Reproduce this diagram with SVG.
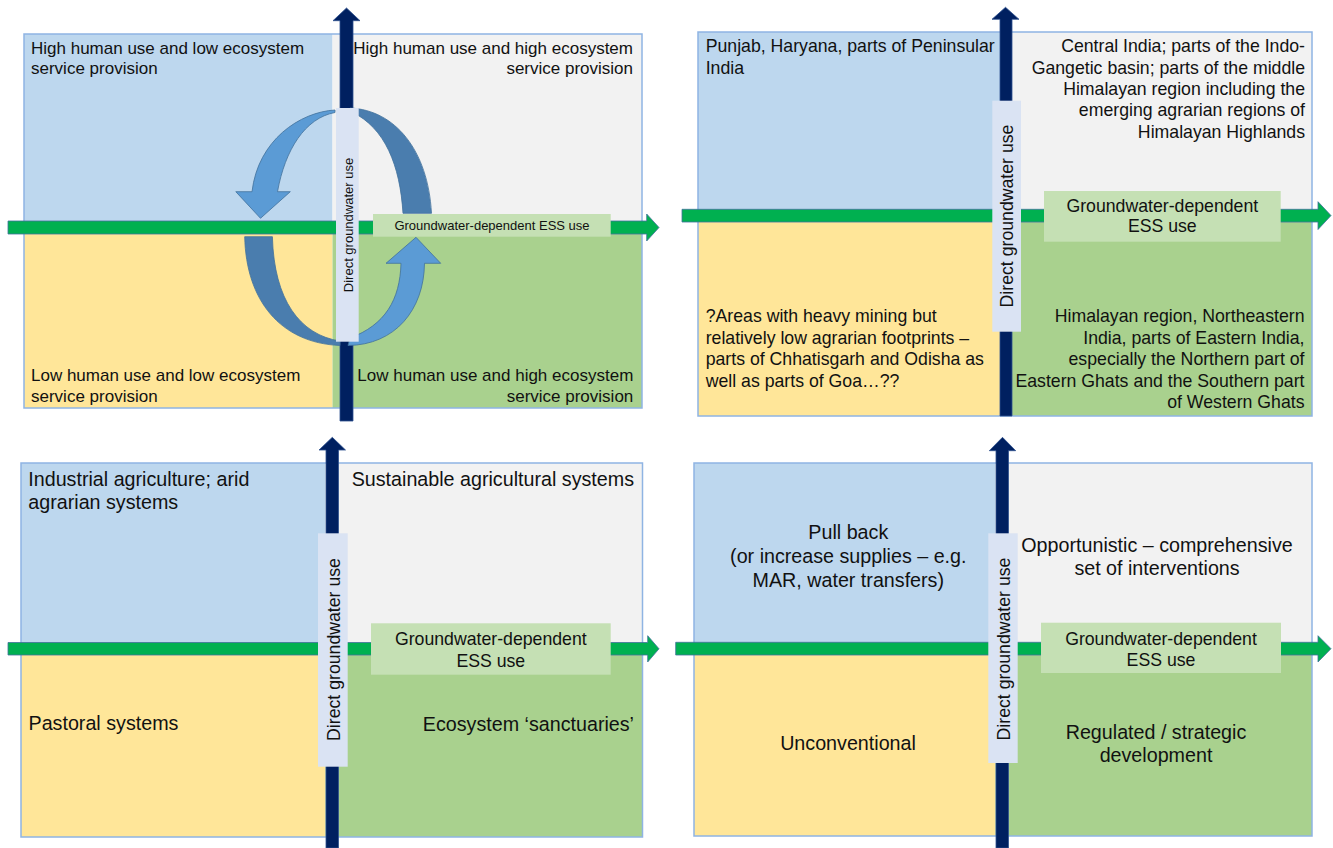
<svg xmlns="http://www.w3.org/2000/svg" width="1333" height="848" viewBox="0 0 1333 848">
<defs>
<style>
.qb{fill:#BDD7EE}.qg{fill:#F2F2F2}.qy{fill:#FFE699}.qe{fill:#A9D18E}
.frame{fill:none;stroke:#8FB4E3;stroke-width:1.5}
.gx{fill:#00B050;stroke:#41719C;stroke-width:0.8}
.nv{fill:#002060;stroke:#2F528F;stroke-width:0.8}
.lbl{fill:#DAE3F3}
.ess{fill:#C5E0B4}
.la{fill:#5B9BD5;stroke:#41719C;stroke-width:0.8}
.da{fill:#4A7DAE;stroke:#41719C;stroke-width:0.8}
text{font-family:"Liberation Sans",Arial,sans-serif;fill:#111}
.t1{font-size:17px}.t2{font-size:17.7px}.t3{font-size:19.7px}.s1{font-size:13px}.s2{font-size:17.7px}
.e{text-anchor:end}.m{text-anchor:middle}
</style>
</defs>

<!-- Panel 1 -->
<g id="panel1">
<rect class="qb" x="24" y="34" width="308.5" height="193.5"/>
<rect class="qg" x="332.5" y="34" width="309.5" height="193.5"/>
<rect class="qy" x="24" y="227.5" width="308.5" height="180.5"/>
<rect class="qe" x="332.5" y="227.5" width="309.5" height="180.5"/>
<rect class="frame" x="24" y="34" width="618" height="374"/>
<text class="t1" x="31" y="53.5">High human use and low ecosystem<tspan x="31" y="74.3">service provision</tspan></text>
<text class="t1 e" x="633" y="53.5">High human use and high ecosystem<tspan x="633" y="74.3">service provision</tspan></text>
<text class="t1" x="31" y="380.7">Low human use and low ecosystem<tspan x="31" y="401.7">service provision</tspan></text>
<text class="t1 e" x="633.3" y="380.7">Low human use and high ecosystem<tspan x="633.3" y="401.7">service provision</tspan></text>
</g>

<!-- Panel 2 -->
<g id="panel2">
<rect class="qb" x="698" y="32" width="302" height="183.5"/>
<rect class="qg" x="1000" y="32" width="312" height="183.5"/>
<rect class="qy" x="698" y="215.5" width="302" height="200.5"/>
<rect class="qe" x="1000" y="215.5" width="312" height="200.5"/>
<rect class="frame" x="698" y="32" width="614" height="384"/>
<text class="t2" x="705.7" y="52.3">Punjab, Haryana, parts of Peninsular<tspan x="705.7" y="73.5">India</tspan></text>
<text class="t2 e" x="1305" y="52.3">Central India; parts of the Indo-<tspan x="1305" y="73.6">Gangetic basin; parts of the middle</tspan><tspan x="1305" y="94.9">Himalayan region including the</tspan><tspan x="1305" y="116.2">emerging agrarian regions of</tspan><tspan x="1305" y="137.5">Himalayan Highlands</tspan></text>
<text class="t2" x="705.7" y="322.3">?Areas with heavy mining but<tspan x="705.7" y="343.7">relatively low agrarian footprints –</tspan><tspan x="705.7" y="365.1">parts of Chhatisgarh and Odisha as</tspan><tspan x="705.7" y="386.5">well as parts of Goa…??</tspan></text>
<text class="t2 e" x="1304.5" y="322.3">Himalayan region, Northeastern<tspan x="1304.5" y="343.7">India, parts of Eastern India,</tspan><tspan x="1304.5" y="365.1">especially the Northern part of</tspan><tspan x="1304.5" y="386.5">Eastern Ghats and the Southern part</tspan><tspan x="1304.5" y="407.9">of Western Ghats</tspan></text>
</g>

<!-- Panel 3 -->
<g id="panel3">
<rect class="qb" x="21" y="463" width="304.5" height="186"/>
<rect class="qg" x="325.5" y="463" width="317" height="186"/>
<rect class="qy" x="21" y="649" width="304.5" height="188"/>
<rect class="qe" x="325.5" y="649" width="317" height="188"/>
<rect class="frame" x="21" y="463" width="621.5" height="374"/>
<text class="t3" x="28.3" y="485.7">Industrial agriculture; arid<tspan x="28.3" y="509.3">agrarian systems</tspan></text>
<text class="t3 e" x="634" y="485.7">Sustainable agricultural systems</text>
<text class="t3" x="28.5" y="730.3">Pastoral systems</text>
<text class="t3 e" x="634" y="730.7">Ecosystem ‘sanctuaries’</text>
</g>

<!-- Panel 4 -->
<g id="panel4">
<rect class="qb" x="694" y="463" width="301.5" height="186"/>
<rect class="qg" x="995.5" y="463" width="316.5" height="186"/>
<rect class="qy" x="694" y="649" width="301.5" height="187"/>
<rect class="qe" x="995.5" y="649" width="316.5" height="187"/>
<rect class="frame" x="694" y="463" width="618" height="373"/>
<text class="t3 m" x="848.3" y="539.3">Pull back<tspan x="848.3" y="563.3">(or increase supplies – e.g.</tspan><tspan x="848.3" y="587">MAR, water transfers)</tspan></text>
<text class="t3 m" x="1157" y="551.7">Opportunistic – comprehensive<tspan x="1157" y="575.3">set of interventions</tspan></text>
<text class="t3 m" x="848" y="750">Unconventional</text>
<text class="t3 m" x="1156" y="738.5">Regulated / strategic<tspan x="1156" y="762">development</tspan></text>
</g>

<!-- Connectors: axes and cycle arrows -->
<g id="connectors">
<path class="gx" d="M8,221 H646.7 V214 L659,227.5 L646.7,241 V234 H8 Z"/>
<path class="gx" d="M682,209.3 H1318 V201.7 L1331,215.6 L1318,229.5 V222 H682 Z"/>
<path class="gx" d="M8,642.5 H647.7 V635.7 L659,648.8 L647.7,662 V655 H8 Z"/>
<path class="gx" d="M675.7,642.3 H1318 V635.7 L1331,648.7 L1318,662 V655 H675.7 Z"/>
<path class="nv" d="M340,421 V20.7 H333 L346.5,8 L360,20.7 H353 V421 Z"/>
<path class="nv" d="M1000,416 V19.3 H992 L1005.5,7.3 L1019,19.3 H1012 V416 Z"/>
<path class="nv" d="M326,848 V450 H319 L332.3,437.3 L345.5,450 H338.5 V848 Z"/>
<path class="nv" d="M996,848 V450.7 H989.3 L1002.5,437.3 L1015.7,450.7 H1008.5 V848 Z"/>
<path class="da" d="M350,108 C395,110 428,150 431.5,213.3 L403,213.3 C400,165 385,128 352,112 Z"/>
<path class="da" d="M244.7,236.7 C246,300 280,343 340,345.5 L340,341 C300,335 274,300 272.4,236.7 Z"/>
<path class="la" d="M335,110 C300,112 258,140 252,191.7 L235.8,191.7 L260.5,218.3 L290.3,191.7 L277.5,191.7 C285,150 305,118 335,112.5 Z"/>
<path class="la" d="M348,345.5 C395,345 424,310 424.5,263.3 L440.7,263.3 L416,237.3 L386,263.3 L401,263.3 C400,300 385,325 350,338 Z"/>
</g>

<!-- Axis labels -->
<g id="label1">
<rect class="lbl" x="336" y="108" width="22.7" height="233.7"/>
<text class="s1 m" transform="translate(352.5,225) rotate(-90)">Direct groundwater use</text>
<rect class="ess" x="373" y="214" width="237.7" height="22.7"/>
<text class="s1 m" x="492" y="229.5">Groundwater-dependent ESS use</text>
</g>
<g id="label2">
<rect class="lbl" x="992.3" y="100.7" width="28.7" height="231"/>
<text class="s2 m" transform="translate(1013.3,216) rotate(-90)">Direct groundwater use</text>
<rect class="ess" x="1044" y="191" width="236.7" height="50.7"/>
<text class="s2 m" x="1162.3" y="211.7">Groundwater-dependent<tspan x="1162.3" y="232.3">ESS use</tspan></text>
</g>
<g id="label3">
<rect class="lbl" x="318" y="533.3" width="29.7" height="233.4"/>
<text class="s2 m" transform="translate(340,649.5) rotate(-90)">Direct groundwater use</text>
<rect class="ess" x="371" y="623.3" width="239.7" height="51.4"/>
<text class="s2 m" x="490.8" y="645">Groundwater-dependent<tspan x="490.8" y="666.7">ESS use</tspan></text>
</g>
<g id="label4">
<rect class="lbl" x="988.3" y="533.3" width="29.4" height="229.7"/>
<text class="s2 m" transform="translate(1010,649) rotate(-90)">Direct groundwater use</text>
<rect class="ess" x="1041" y="622.7" width="240" height="50.3"/>
<text class="s2 m" x="1161" y="644.5">Groundwater-dependent<tspan x="1161" y="666">ESS use</tspan></text>
</g>
</svg>
